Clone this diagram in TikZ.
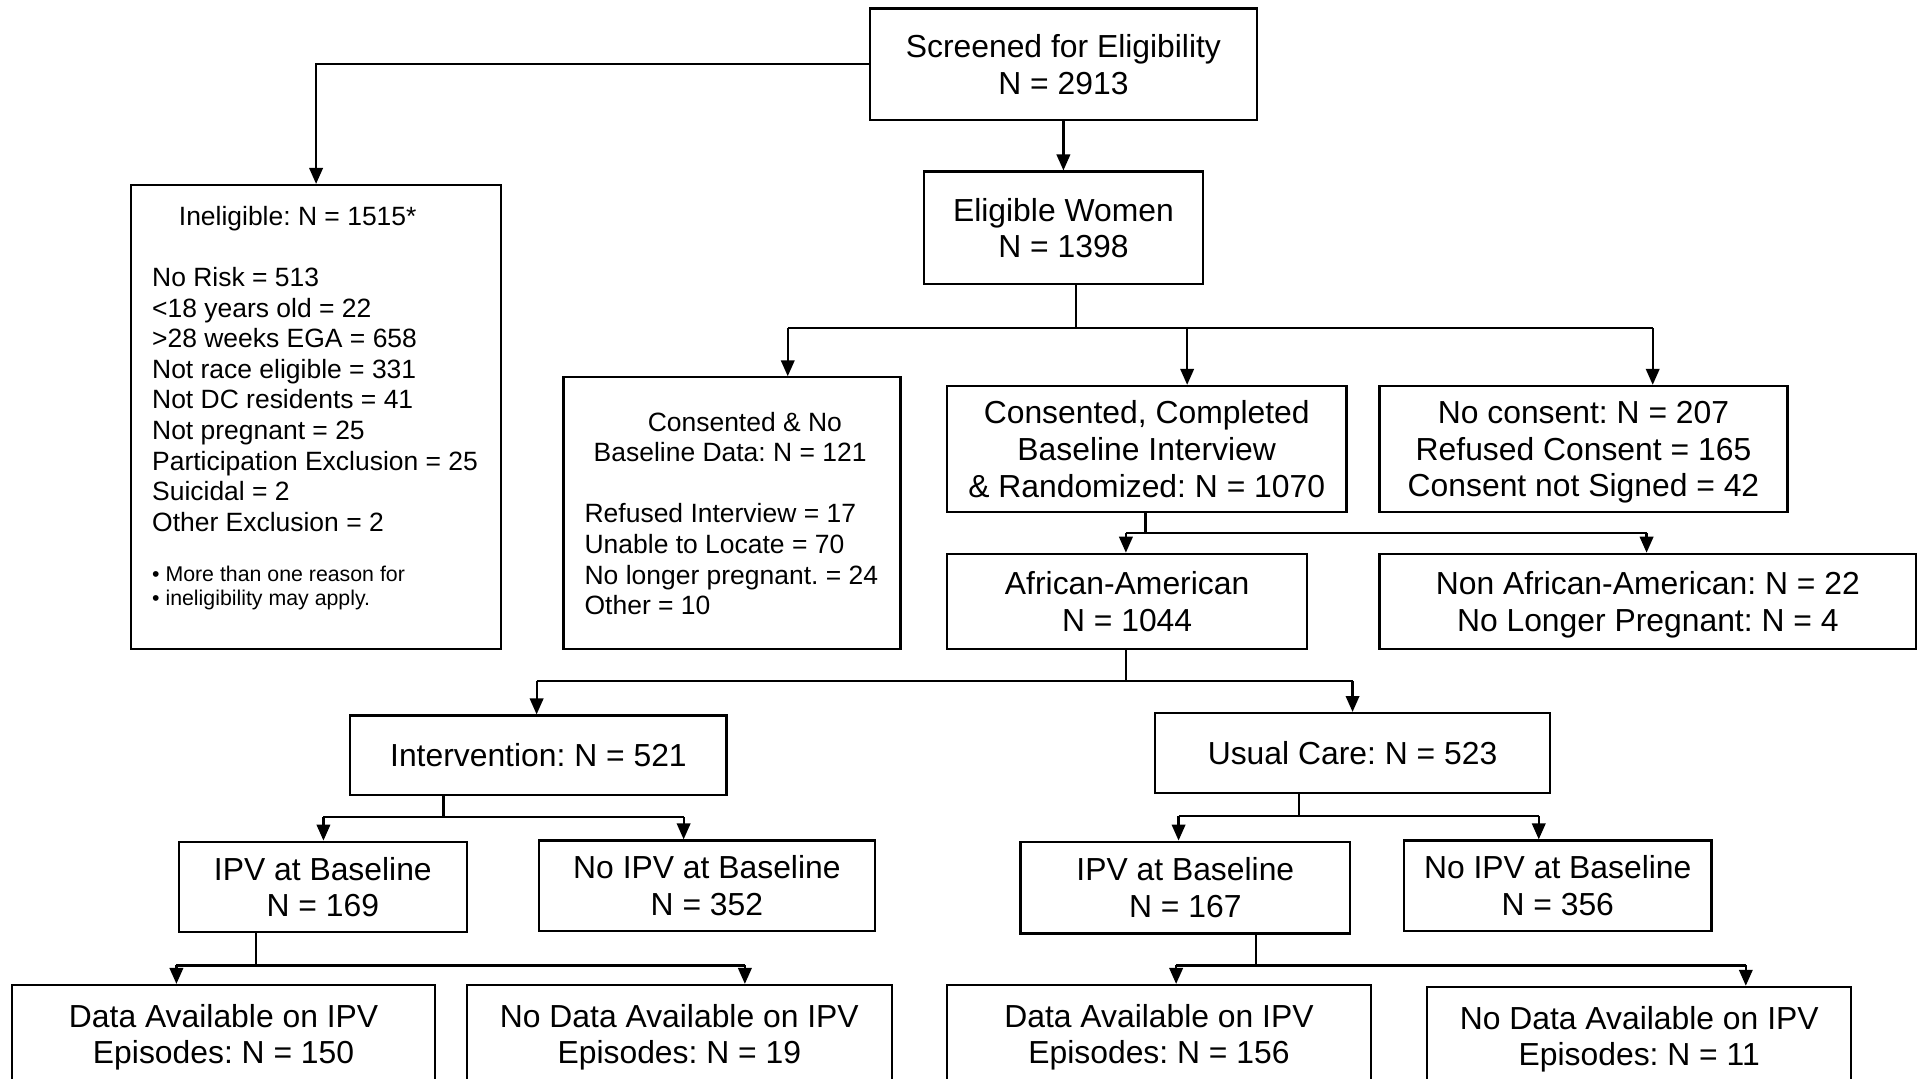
\documentclass[tikz,border=0pt]{standalone}
\usepackage{fontspec}
\setmainfont{Liberation Sans}
\usetikzlibrary{arrows.meta}
\frenchspacing
\newcommand\fmain{\fontsize{26}{30}\selectfont}
\newcommand\fsm{\fontsize{21.6}{25}\selectfont}
\newcommand\ftn{\fontsize{17.4}{20}\selectfont}
\begin{document}
\begin{tikzpicture}[x=1pt,y=-1pt,
 box/.style={draw, line width=1.8pt, inner sep=0pt, align=center, font=\fmain\frenchspacing, text depth=0pt},
 ln/.style={line width=1.8pt},
 arr/.style={line width=1.8pt, -{Triangle[length=13pt,width=11pt]}},
 txt/.style={inner sep=0pt, anchor=base west, font=\fsm\frenchspacing},
 ftxt/.style={inner sep=0pt, anchor=base west, font=\ftn\frenchspacing},
]
\fill[white] (0,0) rectangle (1568,880);
\clip (0,0) rectangle (1568,880);

% boxes
\node[box, minimum width=316, minimum height=91] (scr) at (868,52.5) {Screened for Eligibility\\N = 2913};
\node[box, minimum width=228, minimum height=92] (elig) at (868,186) {Eligible Women\\N = 1398};
\node[box, minimum width=302, minimum height=379] (inel) at (258,340.5) {};
\node[box, minimum width=275, minimum height=222] (cno) at (597.5,419) {};
\node[box, minimum width=326, minimum height=103] (comp) at (936,366.5) {Consented, Completed\\Baseline Interview\\\& Randomized: N = 1070};
\node[box, minimum width=333, minimum height=103] (nocon) at (1292.5,366.5) {No consent: N = 207\\Refused Consent = 165\\Consent not Signed = 42};
\node[box, minimum width=294, minimum height=78] (afr) at (920,491) {African-American\\N = 1044};
\node[box, minimum width=438, minimum height=78] (nonafr) at (1345,491) {Non African-American: N = 22\\No Longer Pregnant: N = 4};
\node[box, minimum width=307, minimum height=65] (intv) at (439.5,616.5) {Intervention: N = 521};
\node[box, minimum width=322, minimum height=65] (usual) at (1104,614.5) {Usual Care: N = 523};
\node[box, minimum width=235, minimum height=74] (ipvA) at (263.5,724) {IPV at Baseline\\N = 169};
\node[box, minimum width=274, minimum height=74] (noipvA) at (577,723) {No IPV at Baseline\\N = 352};
\node[box, minimum width=269, minimum height=75] (ipvB) at (967.5,724.5) {IPV at Baseline\\N = 167};
\node[box, minimum width=251, minimum height=74] (noipvB) at (1271.5,723) {No IPV at Baseline\\N = 356};
\node[box, minimum width=345, minimum height=80] (datA) at (182.5,844) {Data Available on IPV\\Episodes: N = 150};
\node[box, minimum width=347, minimum height=80] (nodatA) at (554.5,844) {No Data Available on IPV\\Episodes: N = 19};
\node[box, minimum width=346, minimum height=80] (datB) at (946,844) {Data Available on IPV\\Episodes: N = 156};
\node[box, minimum width=346, minimum height=80] (nodatB) at (1338,845.5) {No Data Available on IPV\\Episodes: N = 11};

% texts of Ineligible box
\node[inner sep=0pt, anchor=base, font=\fsm\frenchspacing] (inelT) at (243,183.8) {Ineligible: N = 1515*};
\foreach \t [count=\i] in {No Risk = 513, <18 years old = 22, >28 weeks EGA = 658, Not race eligible = 331, Not DC residents = 41, Not pregnant = 25, Participation Exclusion = 25, Suicidal = 2, Other Exclusion = 2}
  \node[txt] (inl\i) at (124,{233.8+25*(\i-1)}) {\t};
\node[ftxt] (fn1) at (124,474.3) {• More than one reason for};
\node[ftxt] (fn2) at (124,494.3) {• ineligibility may apply.};

% texts of Consented & No box
\node[inner sep=0pt, anchor=base, font=\fsm\frenchspacing] (cnoT1) at (608,351.8) {Consented \& No};
\node[inner sep=0pt, anchor=base, font=\fsm\frenchspacing] (cnoT2) at (596,376.8) {Baseline Data: N = 121};
\foreach \t [count=\i] in {Refused Interview = 17, Unable to Locate = 70, No longer pregnant. = 24, Other = 10}
  \node[txt] (cnl\i) at (477,{426.8+25*(\i-1)}) {\t};

% connectors
\draw[arr] (scr.west) -| (inel.north);
\draw[arr] (scr.south) -- (elig.north);

\coordinate (s1) at (878,268);
\coordinate (a1) at (643,268); \coordinate (a2) at (969,268); \coordinate (a3) at (1349,268);
\draw[ln] (elig.south -| s1) -- (s1);
\draw[ln] (a1) -- (a3);
\draw[arr] (a1) -- (a1 |- cno.north);
\draw[arr] (a2) -- (a2 |- comp.north);
\draw[arr] (a3) -- (a3 |- nocon.north);

\coordinate (s2) at (935,435);
\coordinate (b1) at (919,435); \coordinate (b2) at (1344,435);
\draw[ln] (comp.south -| s2) -- (s2);
\draw[ln] (b1) -- (b2);
\draw[arr] (b1) -- (b1 |- afr.north);
\draw[arr] (b2) -- (b2 |- nonafr.north);

\coordinate (s3) at (919,556);
\coordinate (c1) at (438,556); \coordinate (c2) at (1104,556);
\draw[ln] (afr.south -| s3) -- (s3);
\draw[ln] (c1) -- (c2);
\draw[arr] (c1) -- (c1 |- intv.north);
\draw[arr] (c2) -- (c2 |- usual.north);

\coordinate (s4) at (362,667);
\coordinate (d1) at (264,667); \coordinate (d2) at (558,667);
\draw[ln] (intv.south -| s4) -- (s4);
\draw[ln] (d1) -- (d2);
\draw[arr] (d1) -- (d1 |- ipvA.north);
\draw[arr] (d2) -- (d2 |- noipvA.north);

\coordinate (s5) at (1060,666);
\coordinate (e1) at (962,666); \coordinate (e2) at (1256,666);
\draw[ln] (usual.south -| s5) -- (s5);
\draw[ln] (e1) -- (e2);
\draw[arr] (e1) -- (e1 |- ipvB.north);
\draw[arr] (e2) -- (e2 |- noipvB.north);

\coordinate (s6) at (209,788);
\coordinate (f1) at (144,788); \coordinate (f2) at (608,788);
\draw[ln] (ipvA.south -| s6) -- (s6);
\draw[ln] (f1) -- (f2);
\draw[arr] (f1) -- (f1 |- datA.north);
\draw[arr] (f2) -- (f2 |- nodatA.north);

\coordinate (s7) at (1025,788);
\coordinate (g1) at (960,788); \coordinate (g2) at (1425,788);
\draw[ln] (ipvB.south -| s7) -- (s7);
\draw[ln] (g1) -- (g2);
\draw[arr] (g1) -- (g1 |- datB.north);
\draw[arr] (g2) -- (g2 |- nodatB.north);
\end{tikzpicture}
\end{document}
